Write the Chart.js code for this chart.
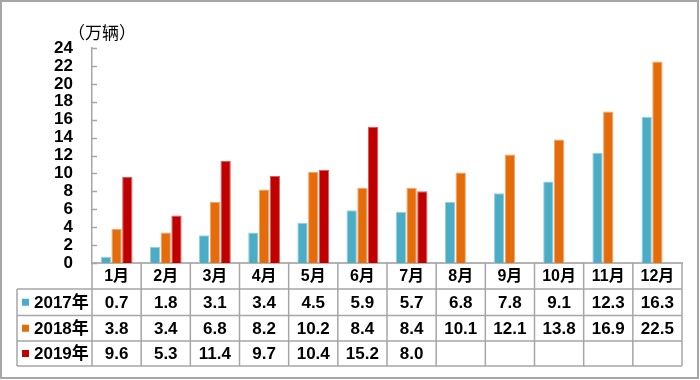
<!DOCTYPE html>
<html><head><meta charset="utf-8">
<script src="https://cdn.jsdelivr.net/npm/chart.js@4"></script>
<style>html,body{margin:0;padding:0;background:#fff}#wrap{width:700px;height:380px}</style>
</head><body><div id="wrap"><canvas id="c" width="700" height="380"></canvas></div>
<script>
const months = ['1月','2月','3月','4月','5月','6月','7月','8月','9月','10月','11月','12月'];
const seriesNames = ['2017年','2018年','2019年'];
const s2017 = [0.7,1.8,3.1,3.4,4.5,5.9,5.7,6.8,7.8,9.1,12.3,16.3];
const s2018 = [3.8,3.4,6.8,8.2,10.2,8.4,8.4,10.1,12.1,13.8,16.9,22.5];
const s2019 = [9.6,5.3,11.4,9.7,10.4,15.2,8.0,null,null,null,null,null];
const yMin = 0, yMax = 24, yStep = 2;
const unitLabel = '（万辆）';

const fills = ['#4BACC6','#E46C0A','#C00000'];
const edges = ['#93D0E0','#F2A566','#DC5A5A'];
const allSeries = [s2017, s2018, s2019];
const FONT = '"Liberation Sans", Arial, "Noto Sans CJK SC", sans-serif';
const GRID = '#A6A6A6';

const tablePlugin = {
  id: 'tablePlugin',
  afterDraw(chart) {
    const ctx = chart.ctx;
    const x = chart.scales.x, y = chart.scales.y;
    const ca = chart.chartArea;
    const n = months.length;
    const w = (x.right - x.left) / n;
    ctx.save();
    // outer frame
    ctx.strokeStyle = GRID; ctx.lineWidth = 2;
    ctx.strokeRect(1, 1, 697, 377);
    // inside y ticks
    ctx.strokeStyle = GRID; ctx.lineWidth = 1.5;
    y.ticks.forEach(t => {
      const py = Math.round(y.getPixelForValue(t.value)) + 0.5;
      ctx.beginPath(); ctx.moveTo(ca.left, py); ctx.lineTo(ca.left + 5, py); ctx.stroke();
    });
    // table geometry
    const top = ca.bottom;
    const rows = [top, top + 26, top + 52.5, top + 78, top + 103];
    const tLeft = 17;
    ctx.strokeStyle = GRID; ctx.lineWidth = 1.5;
    ctx.beginPath();
    for (let r = 1; r < rows.length; r++) { ctx.moveTo(tLeft, rows[r]); ctx.lineTo(x.right, rows[r]); }
    for (let k = 0; k <= n; k++) {
      const px = x.left + k * w;
      ctx.moveTo(px, top); ctx.lineTo(px, rows[4]);
    }
    ctx.moveTo(tLeft, rows[1]); ctx.lineTo(tLeft, rows[4]);
    ctx.stroke();
    // header labels
    ctx.fillStyle = '#000';
    ctx.font = 'bold 16px ' + FONT;
    ctx.textAlign = 'center'; ctx.textBaseline = 'middle';
    months.forEach((m, i) => {
      ctx.fillText(m, x.getPixelForValue(i), (rows[0] + rows[1]) / 2 + 1);
    });
    // rows
    ctx.font = 'bold 17px ' + FONT;
    allSeries.forEach((s, r) => {
      const cy = (rows[r + 1] + rows[r + 2]) / 2 + 1;
      s.forEach((v, i) => {
        if (v === null) return;
        ctx.textAlign = 'center';
        ctx.fillText(v.toFixed(1), x.getPixelForValue(i), cy);
      });
      ctx.fillStyle = fills[r];
      ctx.fillRect(22, cy - 4.5, 7, 7);
      ctx.fillStyle = '#000';
      ctx.textAlign = 'left';
      ctx.fillText(seriesNames[r], 34, cy);
    });
    // unit label
    ctx.font = '17px ' + FONT;
    ctx.textAlign = 'left';
    ctx.fillText(unitLabel, 68, 34);
    ctx.restore();
  }
};

new Chart(document.getElementById('c'), {
  type: 'bar',
  data: {
    labels: months,
    datasets: allSeries.map((s, i) => ({
      label: seriesNames[i], data: s,
      backgroundColor: fills[i], borderColor: edges[i],
      borderWidth: 1, borderSkipped: 'bottom',
      categoryPercentage: 0.655, barPercentage: 0.96
    }))
  },
  options: {
    responsive: false, animation: false,
    layout: { padding: { left: 0, top: 48, right: 18, bottom: 117 } },
    plugins: { legend: { display: false }, tooltip: { enabled: false } },
    scales: {
      x: {
        grid: { display: false, drawTicks: false },
        ticks: { display: false },
        border: { color: '#B3B3B3', width: 2 },
        afterFit(s) { s.height = 0; }
      },
      y: {
        min: yMin, max: yMax,
        grid: { display: false, drawTicks: false },
        border: { color: GRID, width: 1.5 },
        ticks: { stepSize: yStep, autoSkip: false, padding: 19, color: '#000', font: { family: FONT, size: 17, weight: 'bold' } },
        afterFit(s) { s.width = 92; }
      }
    }
  },
  plugins: [tablePlugin]
});
</script></body></html>
